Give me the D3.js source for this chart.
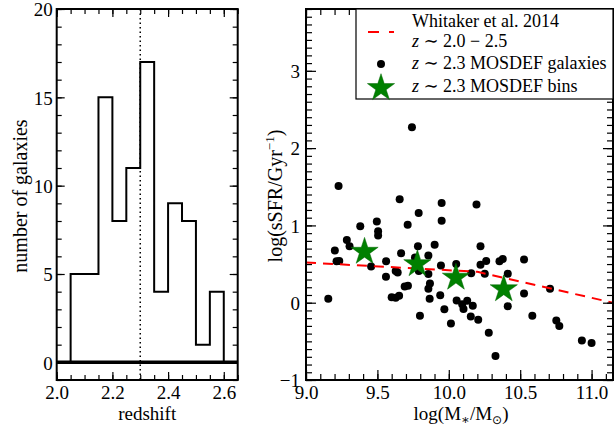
<!DOCTYPE html>
<html>
<head>
<meta charset="utf-8">
<script src="https://cdn.jsdelivr.net/npm/d3@7"></script>
<style>
body { margin: 0; background: #fff; }
svg text { font-family: "Liberation Serif", "Times New Roman", Times, "DejaVu Serif", serif; }
</style>
</head>
<body>
<div id="chart"></div>
<script>
// histogram of redshifts
const binStart = [2.05, 2.10, 2.15, 2.20, 2.25, 2.30, 2.35, 2.40, 2.45, 2.50, 2.55];
const binCounts = [5, 5, 15, 8, 11, 17, 4, 9, 8, 1, 4];
const binWidth = 0.05;
const medianZ = 2.3;

// individual galaxies: log mass, log sSFR
const galMass = [9.742, 9.228, 9.656, 9.95, 10.194, 9.789, 9.496, 9.95, 9.712, 9.38,
  9.505, 9.505, 9.286, 9.305, 9.202, 9.784, 9.901, 10.222, 9.666, 9.763,
  9.857, 9.233, 9.214, 9.561, 10.262, 10.222, 10.355, 10.378, 10.527, 9.945,
  10.052, 9.456, 9.628, 9.642, 9.56, 9.79, 9.857, 10.157, 10.252, 10.413,
  9.156, 9.60, 9.628, 9.652, 9.691, 9.714, 9.868, 9.857, 9.866, 9.798,
  9.94, 9.969, 10.015, 10.055, 10.094, 10.103, 10.129, 10.168, 10.154, 10.206,
  10.28, 10.327, 10.413, 10.527, 10.585, 10.709, 10.753, 10.774, 10.932, 11.0];
const galSsfr = [2.27, 1.51, 1.34, 1.29, 1.27, 1.16, 1.05, 1.06, 1.01, 0.99,
  0.925, 0.87, 0.81, 0.73, 0.675, 0.73, 0.75, 0.73, 0.64, 0.585,
  0.61, 0.54, 0.535, 0.535, 0.54, 0.49, 0.535, 0.565, 0.56, 0.48,
  0.50, 0.47, 0.41, 0.39, 0.335, 0.41, 0.37, 0.38, 0.375, 0.375,
  0.05, 0.07, 0.065, 0.09, 0.21, 0.22, 0.25, 0.18, 0.05, -0.17,
  0.095, -0.085, -0.27, 0.03, -0.02, -0.08, 0.026, -0.04, -0.18, -0.22,
  -0.39, -0.69, -0.046, 0.12, -0.17, 0.18, -0.23, -0.30, -0.49, -0.52];

// binned values
const binMass = [9.41, 9.78, 10.05, 10.385];
const binSsfr = [0.66, 0.50, 0.325, 0.175];

// Whitaker et al. 2014 relation
const whitMass = [9.0, 10.2, 11.15];
const whitSsfr = [0.52, 0.40, 0.0];

const W = 614, H = 429;
const plotTop = 9, plotBottom = 380;
const font = 19;
const serif = '"Liberation Serif", "Times New Roman", Times, "DejaVu Serif", serif';

const svg = d3.select('#chart').append('svg')
  .attr('width', W).attr('height', H)
  .attr('font-family', serif);

// inward ticks on all four sides, major + minor
function drawAxes(g, x, y, o) {
  const [x0, x1] = x.range();
  const [y0, y1] = y.range();
  const sides = [
    ['b', d3.axisBottom(x), `translate(0,${y0})`, o.xFmt],
    ['t', d3.axisTop(x), `translate(0,${y1})`, null],
    ['l', d3.axisLeft(y), `translate(${x0},0)`, o.yFmt],
    ['r', d3.axisRight(y), `translate(${x1},0)`, null]
  ];
  for (const [side, ax, tr, fmt] of sides) {
    const isX = side === 'b' || side === 't';
    const gMin = g.append('g').attr('transform', tr)
      .call(ax.tickValues(isX ? o.xMinor : o.yMinor)
        .tickSizeInner(-o.minorLen).tickSizeOuter(0).tickFormat(''));
    gMin.select('.domain').remove();
    const gMaj = g.append('g').attr('transform', tr)
      .call(ax.tickValues(isX ? o.xMajor : o.yMajor)
        .tickSizeInner(-o.majorLen).tickSizeOuter(0)
        .tickPadding(side === 'b' ? 6 : o.yPad)
        .tickFormat(fmt ? d3.format(fmt) : ''));
    gMaj.attr('font-family', serif).attr('font-size', font);
    gMaj.select('.domain').remove();
    if (side === 'l') gMaj.selectAll('text').attr('dy', '0.36em');
  }
  g.selectAll('.tick line').attr('stroke', '#000').attr('stroke-width', 1.2);
  g.append('rect')
    .attr('x', x0).attr('y', y1)
    .attr('width', x1 - x0).attr('height', y0 - y1)
    .attr('fill', 'none').attr('stroke', '#000').attr('stroke-width', 2);
}

const rng = (a, b, s) => d3.range(Math.round((b - a) / s) + 1).map(i => +(a + i * s).toFixed(3));

// ---------- left panel: histogram ----------
const xz = d3.scaleLinear().domain([2.0, 2.65]).range([56.7, 237.7]);
const yn = d3.scaleLinear().domain([-1, 20]).range([plotBottom, plotTop]);
const left = svg.append('g');

left.append('line')
  .attr('x1', xz(2.0)).attr('x2', xz(2.65))
  .attr('y1', yn(0)).attr('y2', yn(0))
  .attr('stroke', '#000').attr('stroke-width', 3.5);

const stepPts = [[binStart[0], 0]];
binStart.forEach((s, i) => {
  stepPts.push([s, binCounts[i]]);
  stepPts.push([s + binWidth, binCounts[i]]);
});
stepPts.push([binStart[binStart.length - 1] + binWidth, 0]);

left.append('path')
  .datum(stepPts)
  .attr('fill', 'none').attr('stroke', '#000').attr('stroke-width', 2)
  .attr('d', d3.line().x(d => xz(d[0])).y(d => yn(d[1])));

left.append('line')
  .attr('x1', xz(medianZ)).attr('x2', xz(medianZ))
  .attr('y1', yn(20)).attr('y2', yn(-1))
  .attr('stroke', '#000').attr('stroke-width', 1.5)
  .attr('stroke-dasharray', '1.5,3');

drawAxes(left, xz, yn, {
  xMajor: [2.0, 2.2, 2.4, 2.6], xMinor: rng(2.0, 2.65, 0.05), xFmt: '.1f',
  yMajor: [0, 5, 10, 15, 20], yMinor: rng(-1, 20, 1), yFmt: 'd',
  majorLen: 8, minorLen: 5, yPad: 4
});

left.append('text')
  .attr('x', xz(2.325)).attr('y', 420)
  .attr('text-anchor', 'middle').attr('font-size', font)
  .text('redshift');

left.append('text')
  .attr('transform', 'translate(27,196) rotate(-90)')
  .attr('text-anchor', 'middle').attr('font-size', 20)
  .text('number of galaxies');

// ---------- right panel: sSFR vs mass ----------
const xm = d3.scaleLinear().domain([9.0, 11.15]).range([306, 613]);
const ys = d3.scaleLinear().domain([-1, 3.8]).range([plotBottom, plotTop]);
const right = svg.append('g');

right.append('clipPath').attr('id', 'clipR')
  .append('rect').attr('x', 306).attr('y', plotTop).attr('width', 307).attr('height', plotBottom - plotTop);

const plot = right.append('g').attr('clip-path', 'url(#clipR)');

plot.selectAll('circle.gal')
  .data(galMass.map((m, i) => [m, galSsfr[i]]))
  .join('circle')
  .attr('class', 'gal')
  .attr('cx', d => xm(d[0])).attr('cy', d => ys(d[1]))
  .attr('r', 4).attr('fill', '#000');

plot.append('path')
  .datum(whitMass.map((m, i) => [m, whitSsfr[i]]))
  .attr('fill', 'none').attr('stroke', '#ff0000').attr('stroke-width', 2)
  .attr('stroke-dasharray', '10,7')
  .attr('d', d3.line().x(d => xm(d[0])).y(d => ys(d[1])));

const star = d3.symbol().type(d3.symbolStar).size(230);
plot.selectAll('path.bin')
  .data(binMass.map((m, i) => [m, binSsfr[i]]))
  .join('path')
  .attr('class', 'bin')
  .attr('transform', d => `translate(${xm(d[0])},${ys(d[1])})`)
  .attr('d', star)
  .attr('fill', '#008000').attr('stroke', '#006400').attr('stroke-width', 0.5);

drawAxes(right, xm, ys, {
  xMajor: [9.0, 9.5, 10.0, 10.5, 11.0], xMinor: rng(9.0, 11.1, 0.1), xFmt: '.1f',
  yMajor: [-1, 0, 1, 2, 3], yMinor: rng(-1, 3.8, 0.1), yFmt: 'd',
  majorLen: 10, minorLen: 6, yPad: 6
});

// axis labels
const xl = right.append('text')
  .attr('x', 461).attr('y', 420)
  .attr('text-anchor', 'middle').attr('font-size', font);
xl.append('tspan').text('log(M');
xl.append('tspan').attr('font-size', 13).attr('dy', 4).text('∗');
xl.append('tspan').attr('dy', -4).text('/M');
xl.append('tspan').attr('font-size', 12).attr('dy', 4).attr('font-family', '"DejaVu Sans", sans-serif').text('⊙');
xl.append('tspan').attr('dy', -4).text(')');

const yl = right.append('text')
  .attr('transform', 'translate(282,196) rotate(-90)')
  .attr('text-anchor', 'middle').attr('font-size', 20);
yl.append('tspan').text('log(sSFR/Gyr');
yl.append('tspan').attr('font-size', 13).attr('dy', -8).text('−1');
yl.append('tspan').attr('dy', 8).text(')');

// legend
const lg = right.append('g');
lg.append('rect')
  .attr('x', 356).attr('y', plotTop).attr('width', 257).attr('height', 90)
  .attr('fill', '#fff').attr('stroke', '#000').attr('stroke-width', 1.2);
lg.append('line')
  .attr('x1', 368).attr('x2', 394).attr('y1', 32).attr('y2', 32)
  .attr('stroke', '#ff0000').attr('stroke-width', 2).attr('stroke-dasharray', '11,10');
lg.append('text').attr('x', 412).attr('y', 27).attr('font-size', 18).text('Whitaker et al. 2014');
const t2 = lg.append('text').attr('x', 412).attr('y', 47).attr('font-size', 18);
t2.append('tspan').attr('font-style', 'italic').text('z');
t2.append('tspan').text(' ∼ 2.0 − 2.5');
lg.append('circle').attr('cx', 381).attr('cy', 64).attr('r', 4).attr('fill', '#000');
const t3 = lg.append('text').attr('x', 412).attr('y', 69).attr('font-size', 18);
t3.append('tspan').attr('font-style', 'italic').text('z');
t3.append('tspan').text(' ∼ 2.3 MOSDEF galaxies');
lg.append('path')
  .attr('transform', 'translate(381,88)')
  .attr('d', star)
  .attr('fill', '#008000').attr('stroke', '#006400').attr('stroke-width', 0.5);
const t4 = lg.append('text').attr('x', 412).attr('y', 92).attr('font-size', 18);
t4.append('tspan').attr('font-style', 'italic').text('z');
t4.append('tspan').text(' ∼ 2.3 MOSDEF bins');
</script>
</body>
</html>
